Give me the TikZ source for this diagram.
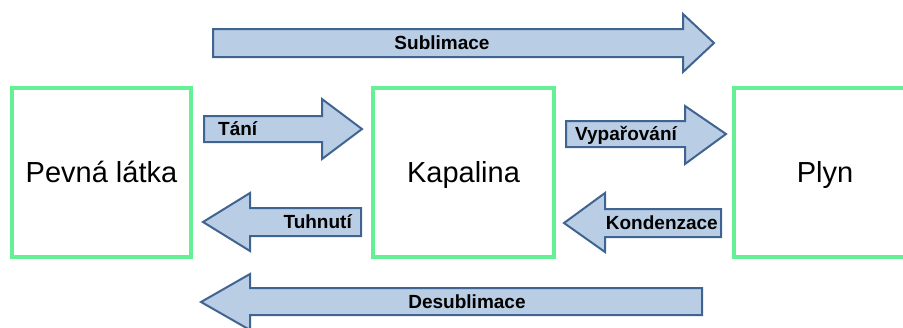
\documentclass[tikz,border=0pt]{standalone}
\usepackage{fontspec}
\setmainfont{Liberation Sans}
\usepackage{xcolor}
\usepackage{tikz}
\usetikzlibrary{positioning}

\definecolor{phaseGreen}{RGB}{102,240,150}
\definecolor{arrowFill}{RGB}{185,205,228}
\definecolor{arrowLine}{RGB}{64,100,146}

\begin{document}
\begin{tikzpicture}[
    x=1pt, y=-1pt,
    phase/.style={
        rectangle, draw=phaseGreen, line width=4pt, fill=white, inner sep=0pt,
        minimum height=169pt, font=\fontsize{29}{34}\selectfont,
        text height=20.8pt, text depth=0pt
    },
    flowArrow/.style={
        draw=arrowLine, fill=arrowFill, line width=2pt, line join=miter
    },
    flowLabel/.style={
        font=\bfseries\fontsize{19}{22}\selectfont, inner sep=0pt,
        text height=13.6pt, text depth=0pt
    }
]
\useasboundingbox (0,0) rectangle (903,327);
\clip (0,0) rectangle (903,327);

% Phases
\node[phase, minimum width=179pt] (pevna) at (101.5,172.5) {Pevná látka};
\node[phase, minimum width=181pt] (kapalina) at (463.5,172.5) {Kapalina};
\node[phase, minimum width=182pt] (plyn) at (825,172.5) {Plyn};

% Sublimace (top)
\draw[flowArrow] (213,29) -- (683,29) -- (683,14) -- (714,43) -- (683,72) -- (683,57) -- (213,57) -- cycle;
\node[flowLabel] (sublimace) at (442,43) {Sublimace};

% Tání / Tuhnutí
\draw[flowArrow] (204,116) -- (322,116) -- (322,99) -- (362,129) -- (322,159) -- (322,142) -- (204,142) -- cycle;
\node[flowLabel, anchor=west] (tani) at (218,129) {Tání};

\draw[flowArrow] (361,208) -- (250,208) -- (250,193) -- (203,222) -- (250,251) -- (250,236) -- (361,236) -- cycle;
\node[flowLabel, anchor=east] (tuhnuti) at (352,222) {Tuhnutí};

% Vypařování / Kondenzace
\draw[flowArrow] (566,121) -- (685,121) -- (685,106) -- (726,134) -- (685,164) -- (685,147) -- (566,147) -- cycle;
\node[flowLabel, anchor=west] (vyparovani) at (575,134) {Vypařování};

\draw[flowArrow] (721,209) -- (605,209) -- (605,193) -- (564,223) -- (605,252) -- (605,237) -- (721,237) -- cycle;
\node[flowLabel, anchor=east] (kondenzace) at (718,223) {Kondenzace};

% Desublimace (bottom)
\draw[flowArrow] (702,288) -- (250,288) -- (250,274) -- (201,302) -- (250,330) -- (250,315) -- (702,315) -- cycle;
\node[flowLabel] (desublimace) at (467,302) {Desublimace};

\end{tikzpicture}
\end{document}
